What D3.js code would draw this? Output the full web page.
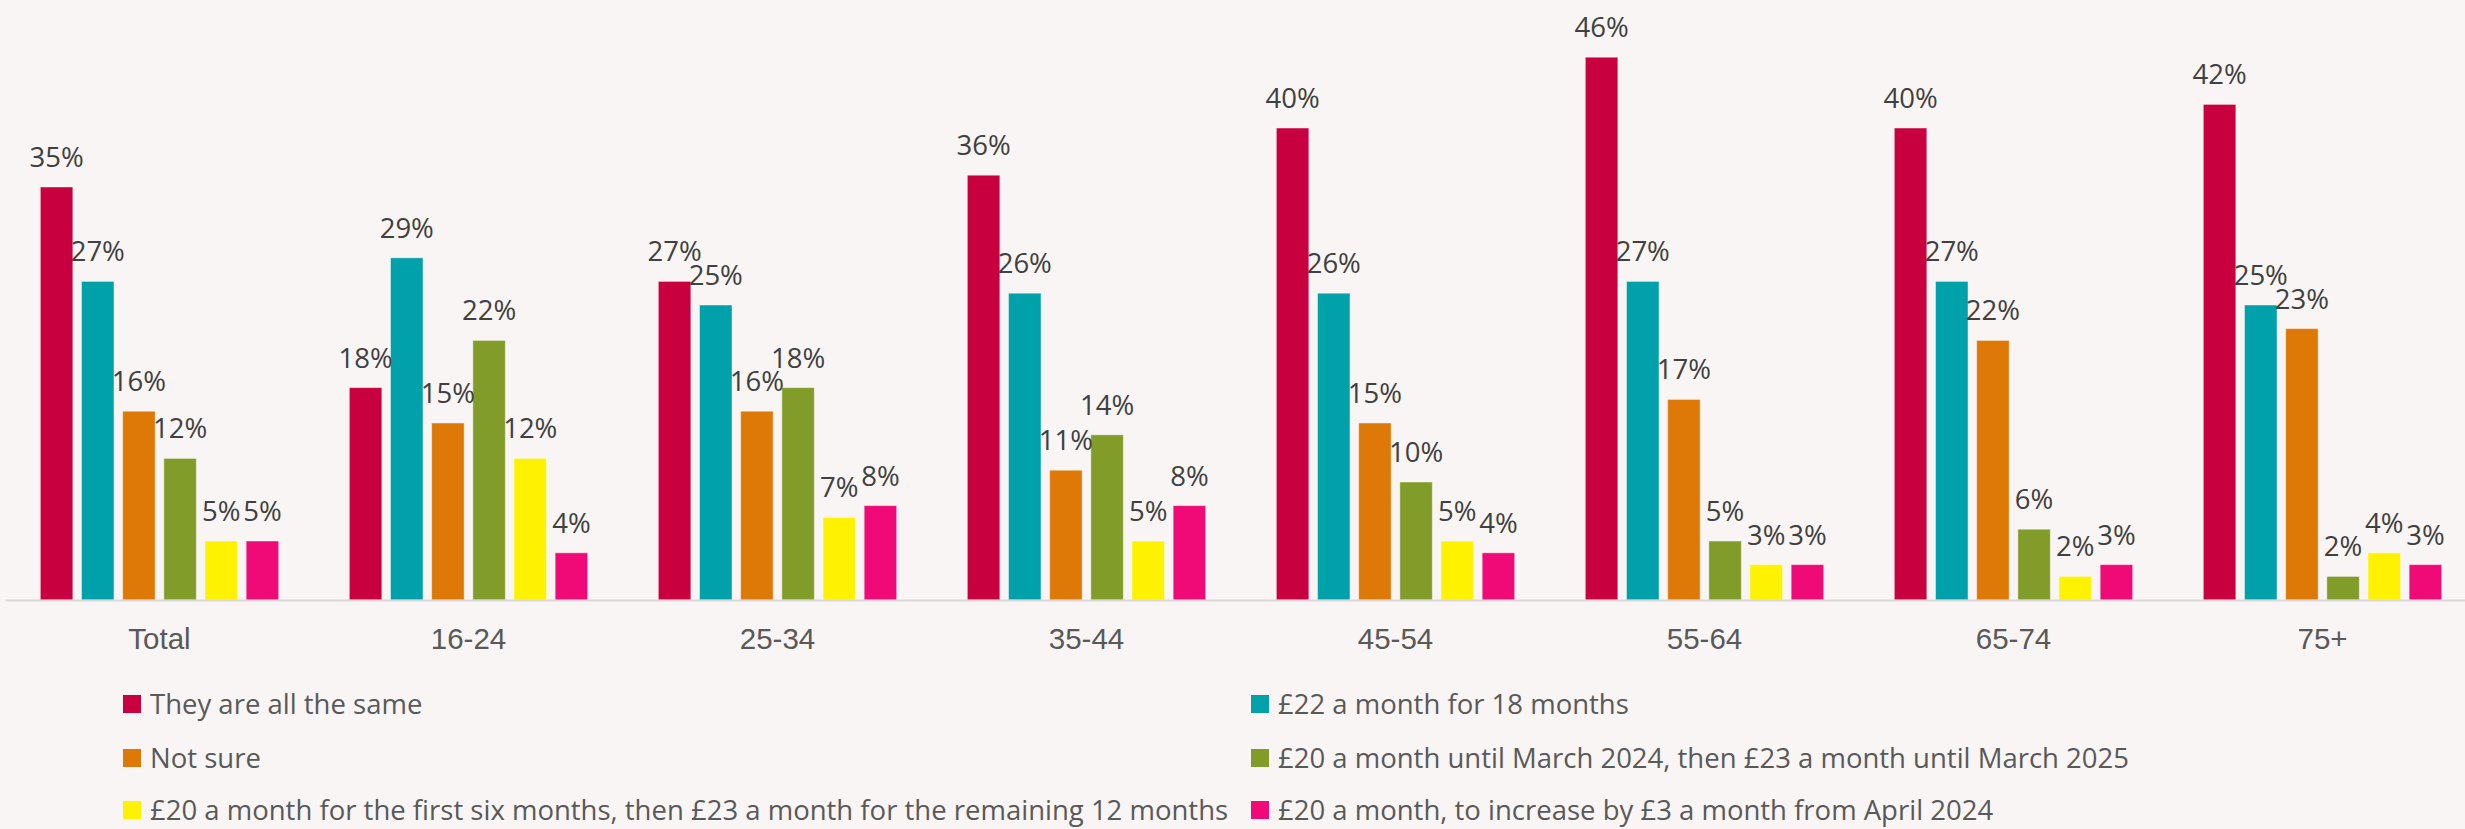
<!DOCTYPE html>
<html>
<head>
<meta charset="utf-8">
<script src="https://cdn.jsdelivr.net/npm/d3@7"></script>
<style>
  html, body { margin: 0; padding: 0; background: #f8f5f4; }
  svg { display: block; font-family: "Open Sans", "Noto Sans", sans-serif; }
  .value-label { fill: #404040; font-size: 27.5px; text-anchor: middle; }
  .x.axis text { fill: #595959; font-size: 29.5px; }
  .legend text { fill: #595959; font-size: 27.5px; }
</style>
</head>
<body>
<div id="chart"></div>
<script>
// age groups along the x axis
var categories = ['Total', '16-24', '25-34', '35-44', '45-54', '55-64', '65-74', '75+'];

var seriesNames = [
	'They are all the same',
	'£22 a month for 18 months',
	'Not sure',
	'£20 a month until March 2024, then £23 a month until March 2025',
	'£20 a month for the first six months, then £23 a month for the remaining 12 months',
	'£20 a month, to increase by £3 a month from April 2024'
];

// percentages, one array per answer, in category order
var allTheSame   = [35, 18, 27, 36, 40, 46, 40, 42];
var flat22       = [27, 29, 25, 26, 26, 27, 27, 25];
var notSure      = [16, 15, 16, 11, 15, 17, 22, 23];
var march2024    = [12, 22, 18, 14, 10, 5, 6, 2];
var sixMonths    = [5, 12, 7, 5, 5, 3, 2, 4];
var april2024    = [5, 4, 8, 8, 4, 3, 3, 3];

var seriesValues = [allTheSame, flat22, notSure, march2024, sixMonths, april2024];

var colors = ['#c8003f', '#00a1aa', '#de7908', '#829c2a', '#fff200', '#ef0a77'];

var width = 2465, height = 829;

// plot area runs a bit past the right edge, like the original
var plot = {left: 5, right: 2477, baseline: 600};

var svg = d3.select('#chart').append('svg')
	.attr('width', width)
	.attr('height', height);

svg.append('rect')
	.attr('width', width)
	.attr('height', height)
	.attr('fill', '#f8f5f4');

var xScale = d3.scaleBand()
	.domain(categories)
	.range([plot.left, plot.right]);

// bars inside one category
var innerScale = d3.scaleBand()
	.domain(d3.range(seriesNames.length))
	.range([31, xScale.bandwidth() - 31])
	.paddingInner(0.21)
	.paddingOuter(0.105);

var yScale = d3.scaleLinear()
	.domain([0, 50])
	.range([plot.baseline, plot.baseline - 590]);

var rows = categories.map((c, i) => ({
	category: c,
	values: seriesValues.map((s, j) => ({series: j, value: s[i]}))
}));

var groups = svg.selectAll('.group')
	.data(rows)
	.enter()
	.append('g')
	.attr('class', 'group')
	.attr('transform', d => `translate(${xScale(d.category)}, 0)`);

groups.selectAll('.bar')
	.data(d => d.values)
	.enter()
	.append('rect')
	.attr('class', 'bar')
	.attr('x', d => innerScale(d.series))
	.attr('y', d => yScale(d.value))
	.attr('width', innerScale.bandwidth())
	.attr('height', d => plot.baseline - yScale(d.value))
	.attr('fill', d => colors[d.series])
	.attr('stroke', 'rgba(255,255,255,0.45)')
	.attr('stroke-width', 1);

groups.selectAll('.value-label')
	.data(d => d.values)
	.enter()
	.append('text')
	.attr('class', 'value-label')
	.attr('x', d => innerScale(d.series) + innerScale.bandwidth() / 2)
	.attr('y', d => yScale(d.value) - 20)
	.text(d => d.value + '%');

// x axis: grey line only, labels below
var xAxis = d3.axisBottom(xScale)
	.tickSize(0)
	.tickPadding(28);

var axisG = svg.append('g')
	.attr('class', 'x axis')
	.attr('transform', `translate(0, ${plot.baseline})`)
	.call(xAxis);

axisG.select('.domain')
	.attr('stroke', '#d9d9d9')
	.attr('stroke-width', 2);

axisG.selectAll('text')
	.attr('font-family', null)
	.attr('font-size', null)
	.attr('dy', '0.71em');

// legend, two columns, three rows
var legendCols = [123, 1251];
var legendRows = [704, 758, 810];

var legend = svg.append('g')
	.attr('class', 'legend')
	.selectAll('g')
	.data(seriesNames)
	.enter()
	.append('g')
	.attr('transform', (d, i) => `translate(${legendCols[i % 2]}, ${legendRows[Math.floor(i / 2)]})`);

legend.append('rect')
	.attr('x', 0)
	.attr('y', -9)
	.attr('width', 18)
	.attr('height', 18)
	.attr('fill', (d, i) => colors[i]);

legend.append('text')
	.attr('x', 27)
	.attr('dy', '0.36em')
	.text(d => d);
</script>
</body>
</html>
